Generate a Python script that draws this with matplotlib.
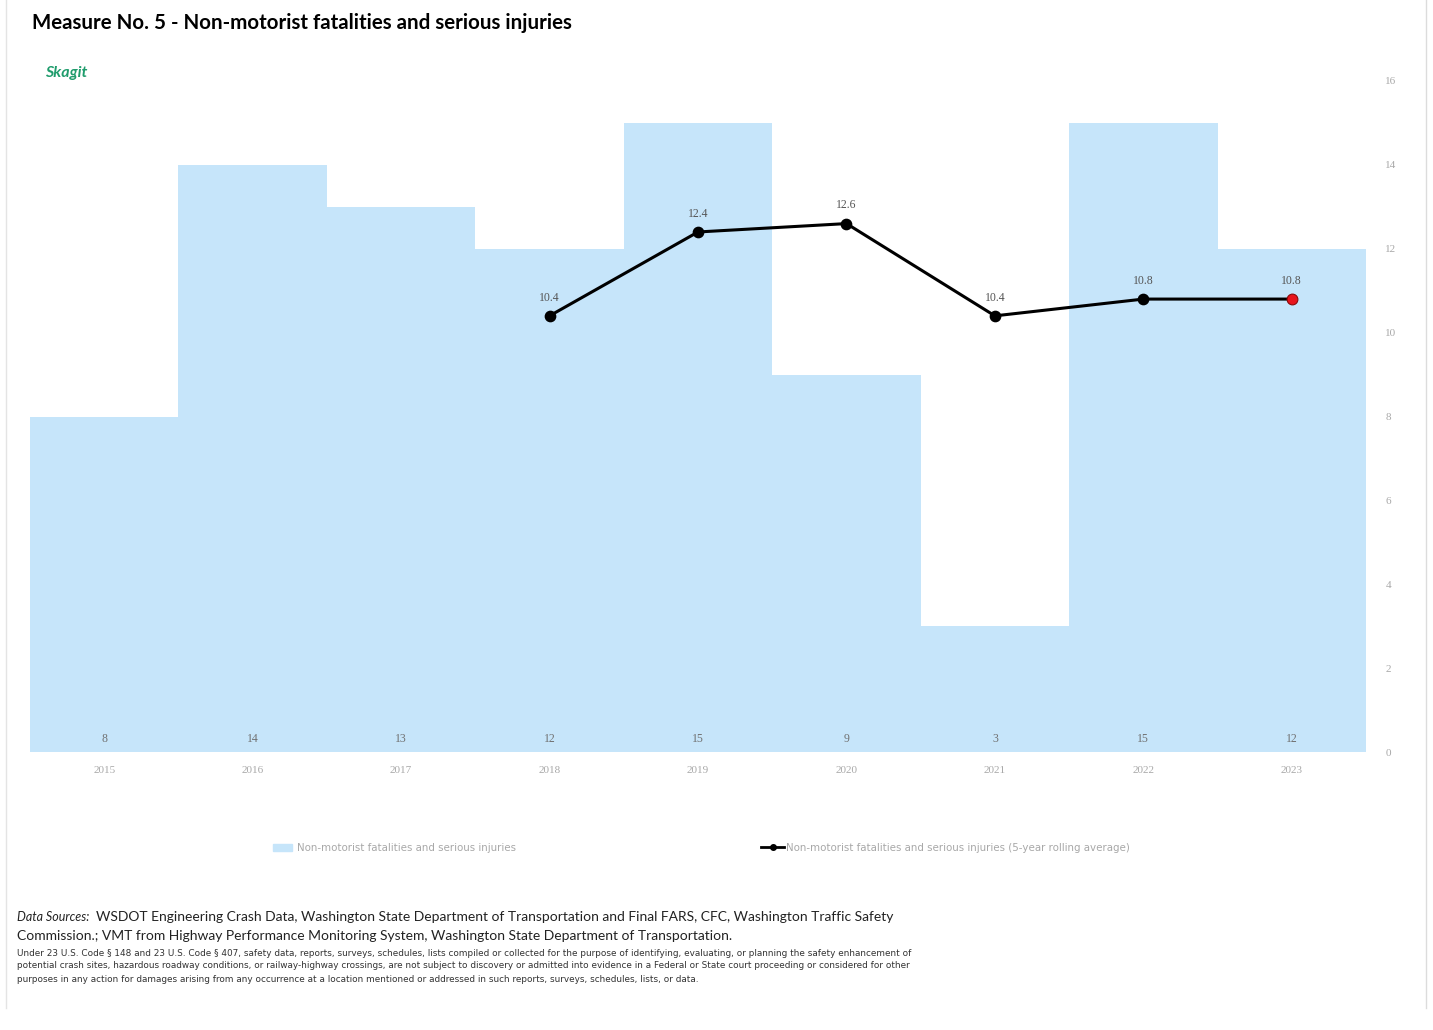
import matplotlib.pyplot as plt
from matplotlib.patches import Patch
from matplotlib.lines import Line2D

years = ["2015", "2016", "2017", "2018", "2019", "2020", "2021", "2022", "2023"]
counts = [8, 14, 13, 12, 15, 9, 3, 15, 12]
avg_years = ["2018", "2019", "2020", "2021", "2022", "2023"]
rolling_avg = [10.4, 12.4, 12.6, 10.4, 10.8, 10.8]

bar_color = "#c6e5fa"
faint = "#a8a8a8"

fig = plt.figure(figsize=(14.33, 10.30), dpi=100)
ax = fig.add_axes([30 / 1433, 1 - 752 / 1030, 1336 / 1433, 671 / 1030])

x = list(range(len(years)))
ax.bar(x, counts, width=1.0, color=bar_color, zorder=1)
for xi, v in zip(x, counts):
    ax.text(xi, 0.3, str(v), ha="center", va="center", fontsize=8.5,
            family="Liberation Serif", color="#707070", zorder=3)

xa = [years.index(y) for y in avg_years]
ax.plot(xa, rolling_avg, color="black", lw=2.2, zorder=2)
ax.scatter(xa[:-1], rolling_avg[:-1], s=55, color="black", zorder=3)
ax.scatter(xa[-1:], rolling_avg[-1:], s=60, color="#e8141c",
           edgecolor="#8a0a0a", linewidth=0.8, zorder=4)
for xi, v in zip(xa, rolling_avg):
    ax.annotate(f"{v:.1f}", (xi, v), xytext=(0, 11), textcoords="offset points",
                ha="center", fontsize=8.5, family="Liberation Serif",
                color="#555555")

ax.set_xlim(-0.5, len(years) - 0.5)
ax.set_ylim(0, 16)
ax.set_yticks(range(0, 17, 2))
ax.set_xticks(x)
ax.set_xticklabels(years)
ax.yaxis.tick_right()
ax.tick_params(axis="both", length=0, labelsize=8, labelcolor=faint)
ax.tick_params(axis="x", pad=10)
ax.tick_params(axis="y", pad=14)
for lab in ax.get_xticklabels() + ax.get_yticklabels():
    lab.set_family("Liberation Serif")
for s in ax.spines.values():
    s.set_visible(False)

fig.text(32 / 1433, 1 - 23 / 1030, "Measure No. 5 - Non-motorist fatalities and serious injuries",
         family="Lato", weight="bold", fontsize=14.8, va="center")
fig.text(45 / 1433, 1 - 73 / 1030, "Skagit", family="Lato", weight="bold",
         style="italic", fontsize=11.5, color="#1f9c6c", va="center")

leg1 = fig.legend(handles=[Patch(color=bar_color)],
                  labels=["Non-motorist fatalities and serious injuries"],
                  loc="center left", bbox_to_anchor=(264 / 1433, 1 - 848 / 1030),
                  frameon=False, fontsize=7.4, handlelength=1.8, handleheight=0.6,
                  handletextpad=0.5)
for t in leg1.get_texts():
    t.set_color(faint)
leg2 = fig.legend(handles=[Line2D([], [], color="black", lw=2, marker="o", markersize=4)],
                  labels=["Non-motorist fatalities and serious injuries (5-year rolling average)"],
                  loc="center left", bbox_to_anchor=(752 / 1433, 1 - 848 / 1030),
                  frameon=False, fontsize=7.4, handlelength=2.2, handletextpad=0.2)
for t in leg2.get_texts():
    t.set_color(faint)

src = ("WSDOT Engineering Crash Data, Washington State Department of Transportation and Final FARS, CFC, "
       "Washington Traffic Safety")
fig.text(17 / 1433, 1 - 917 / 1030, "Data Sources:", family="Lato", style="italic",
         fontsize=9, va="center", color="#222222")
fig.text(96 / 1433, 1 - 917 / 1030, src, family="Lato", fontsize=10, va="center",
         color="#222222")
fig.text(17 / 1433, 1 - 936 / 1030,
         "Commission.; VMT from Highway Performance Monitoring System, Washington State Department of Transportation.",
         family="Lato", fontsize=10, va="center", color="#222222")
disclaimer = [
    "Under 23 U.S. Code § 148 and 23 U.S. Code § 407, safety data, reports, surveys, schedules, lists compiled or "
    "collected for the purpose of identifying, evaluating, or planning the safety enhancement of",
    "potential crash sites, hazardous roadway conditions, or railway-highway crossings, are not subject to discovery "
    "or admitted into evidence in a Federal or State court proceeding or considered for other",
    "purposes in any action for damages arising from any occurrence at a location mentioned or addressed in such "
    "reports, surveys, schedules, lists, or data.",
]
for i, line in enumerate(disclaimer):
    fig.text(17 / 1433, 1 - (953 + 13 * i) / 1030, line, family="Liberation Sans Narrow",
             fontsize=6.4, va="center", color="#333333")

# thin page edges
fig.add_artist(Line2D([6 / 1433, 6 / 1433], [1 - 1008 / 1030, 1], color="#e4e4e4", lw=1))
fig.add_artist(Line2D([1426 / 1433, 1426 / 1433], [1 - 1008 / 1030, 1], color="#dcdcdc", lw=1))

fig.savefig("out.png", dpi=100)
